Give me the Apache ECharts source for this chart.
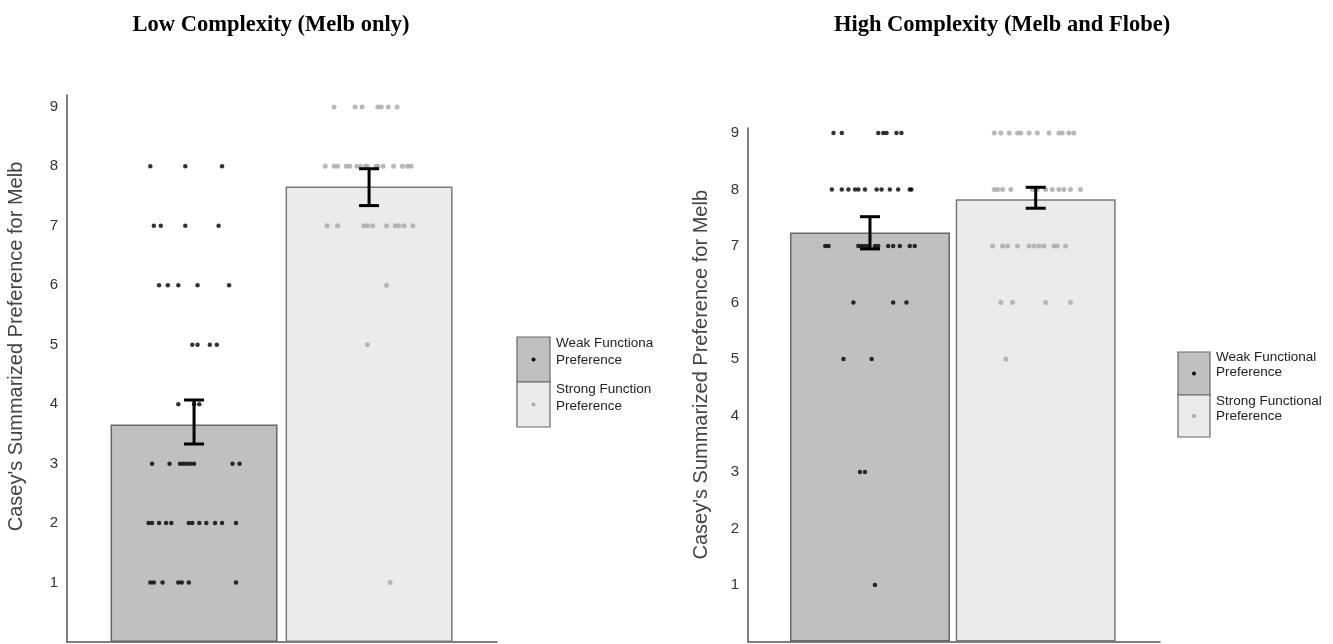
<!DOCTYPE html>
<html>
<head>
<meta charset="utf-8">
<script src="https://cdn.jsdelivr.net/npm/echarts@6/dist/echarts.min.js"></script>
<style>
  html, body { margin: 0; padding: 0; background: #fff; }
  #chart { width: 1333px; height: 644px; }
</style>
</head>
<body>
<div id="chart"></div>
<script>
// groups and summary values
var groups = ['Weak Functional Preference', 'Strong Functional Preference'];
var groupX = [1, 2];

var lowMeans = [3.66, 7.66];
var lowErrLow = [3.33, 7.34];
var lowErrHigh = [4.07, 7.96];

var highMeans = [7.24, 7.83];
var highErrLow = [6.95, 7.67];
var highErrHigh = [7.52, 8.04];

var scoreTicks = [1, 2, 3, 4, 5, 6, 7, 8, 9];

// individual scores: [jitter offset from group centre, score]
var lowWeakDots = [
  [-0.25, 8], [-0.05, 8], [0.16, 8],
  [-0.23, 7], [-0.19, 7], [-0.05, 7], [0.14, 7],
  [-0.20, 6], [-0.15, 6], [-0.09, 6], [0.02, 6], [0.20, 6],
  [-0.01, 5], [0.02, 5], [0.09, 5], [0.13, 5],
  [-0.09, 4], [0.00, 4], [0.03, 4],
  [-0.24, 3], [-0.14, 3], [-0.08, 3], [-0.06, 3], [-0.04, 3], [-0.02, 3], [0.00, 3], [0.22, 3], [0.26, 3],
  [-0.26, 2], [-0.24, 2], [-0.20, 2], [-0.16, 2], [-0.13, 2], [-0.03, 2], [-0.01, 2], [0.03, 2], [0.07, 2], [0.12, 2], [0.16, 2], [0.24, 2],
  [-0.25, 1], [-0.23, 1], [-0.18, 1], [-0.09, 1], [-0.07, 1], [-0.03, 1], [0.24, 1]
];
var lowStrongDots = [
  [-0.20, 9], [-0.08, 9], [-0.04, 9], [0.05, 9], [0.07, 9], [0.11, 9], [0.16, 9],
  [-0.25, 8], [-0.20, 8], [-0.18, 8], [-0.13, 8], [-0.11, 8], [-0.07, 8], [-0.05, 8], [-0.02, 8], [-0.01, 8], [0.04, 8], [0.05, 8], [0.08, 8], [0.14, 8], [0.19, 8], [0.22, 8], [0.24, 8],
  [-0.24, 7], [-0.18, 7], [-0.03, 7], [-0.01, 7], [0.02, 7], [0.10, 7], [0.15, 7], [0.17, 7], [0.20, 7], [0.25, 7],
  [0.10, 6],
  [-0.01, 5],
  [0.12, 1]
];
var highWeakDots = [
  [-0.22, 9], [-0.17, 9], [0.05, 9], [0.08, 9], [0.10, 9], [0.16, 9], [0.19, 9],
  [-0.23, 8], [-0.17, 8], [-0.13, 8], [-0.09, 8], [-0.07, 8], [-0.03, 8], [0.04, 8], [0.07, 8], [0.12, 8], [0.17, 8], [0.24, 8], [0.25, 8],
  [-0.27, 7], [-0.25, 7], [-0.07, 7], [-0.05, 7], [-0.03, 7], [-0.01, 7], [0.03, 7], [0.05, 7], [0.11, 7], [0.14, 7], [0.18, 7], [0.24, 7], [0.27, 7],
  [-0.10, 6], [0.14, 6], [0.22, 6],
  [-0.16, 5], [0.01, 5],
  [-0.06, 3], [-0.03, 3],
  [0.03, 1]
];
var highStrongDots = [
  [-0.25, 9], [-0.21, 9], [-0.16, 9], [-0.11, 9], [-0.09, 9], [-0.04, 9], [0.01, 9], [0.08, 9], [0.14, 9], [0.16, 9], [0.20, 9], [0.23, 9],
  [-0.25, 8], [-0.23, 8], [-0.20, 8], [-0.15, 8], [-0.02, 8], [0.01, 8], [0.06, 8], [0.10, 8], [0.14, 8], [0.17, 8], [0.21, 8], [0.27, 8],
  [-0.26, 7], [-0.20, 7], [-0.17, 7], [-0.11, 7], [-0.04, 7], [-0.01, 7], [0.02, 7], [0.05, 7], [0.11, 7], [0.13, 7], [0.18, 7],
  [-0.21, 6], [-0.14, 6], [0.06, 6], [0.21, 6],
  [-0.18, 5]
];

var barColors = ['#c0c0c0', '#ebebeb'];
var dotColors = ['#000000', '#a8a8a8'];

var chart = echarts.init(document.getElementById('chart'));

function place(dots, gx) {
  return dots.map(function (d) { return [gx + d[0], d[1]]; });
}

function barData(means) {
  return means.map(function (m, i) {
    return {
      value: [groupX[i], m],
      itemStyle: { color: barColors[i], borderColor: i === 0 ? '#666' : '#7a7a7a', borderWidth: 1.5 }
    };
  });
}

function errData(lo, hi) {
  return lo.map(function (l, i) { return [groupX[i], l, hi[i]]; });
}

function renderErr(params, api) {
  var x = api.value(0);
  var top = api.coord([x, api.value(2)]);
  var bot = api.coord([x, api.value(1)]);
  var w = 10;
  var st = { stroke: '#000', lineWidth: 3 };
  return {
    type: 'group',
    children: [
      { type: 'line', shape: { x1: top[0], y1: top[1], x2: bot[0], y2: bot[1] }, style: st },
      { type: 'line', shape: { x1: top[0] - w, y1: top[1], x2: top[0] + w, y2: top[1] }, style: st },
      { type: 'line', shape: { x1: bot[0] - w, y1: bot[1], x2: bot[0] + w, y2: bot[1] }, style: st }
    ]
  };
}

function yAxisFor(idx, max, gap, pad) {
  return {
    type: 'value',
    gridIndex: idx,
    min: 0,
    max: max,
    interval: 1,
    name: "Casey's Summarized Preference for Melb",
    nameLocation: 'middle',
    nameGap: gap,
    nameTextStyle: { fontFamily: 'Liberation Sans', fontSize: 20, color: '#444', padding: [0, 0, 0, pad] },
    axisLine: { show: true, lineStyle: { color: '#555', width: 1.5 } },
    axisTick: { show: false },
    splitLine: { show: false },
    axisLabel: {
      margin: 9,
      fontFamily: 'Liberation Sans',
      fontSize: 15,
      color: '#333',
      formatter: function (v) { return scoreTicks.indexOf(v) >= 0 ? String(v) : ''; }
    }
  };
}

function xAxisFor(idx, min, max) {
  return {
    type: 'value',
    gridIndex: idx,
    min: min,
    max: max,
    axisLine: { show: true, onZero: false, lineStyle: { color: '#555', width: 1.5 } },
    axisTick: { show: false },
    axisLabel: { show: false },
    splitLine: { show: false }
  };
}

function legendBlock(x, y, w, h1, h2, lineH, textW) {
  var names = groups.map(function (g) { return g.replace(' Preference', '\nPreference'); });
  return [
    { type: 'rect', shape: { x: x, y: y, width: w, height: h1 }, style: { fill: barColors[0], stroke: '#666', lineWidth: 1.2 } },
    { type: 'rect', shape: { x: x, y: y + h1, width: w, height: h2 }, style: { fill: barColors[1], stroke: '#666', lineWidth: 1.2 } },
    { type: 'circle', shape: { cx: x + w / 2, cy: y + h1 / 2, r: 2 }, style: { fill: dotColors[0] } },
    { type: 'circle', shape: { cx: x + w / 2, cy: y + h1 + h2 / 2, r: 2 }, style: { fill: dotColors[1] } },
    { type: 'text', x: x + w + 6, y: y - 2, style: { text: names[0], fontFamily: 'Liberation Sans', fontSize: 13.5, lineHeight: lineH, fill: '#222', width: textW, overflow: 'truncate', ellipsis: '' } },
    { type: 'text', x: x + w + 6, y: y + h1 - 1, style: { text: names[1], fontFamily: 'Liberation Sans', fontSize: 13.5, lineHeight: lineH, fill: '#222', width: textW, overflow: 'truncate', ellipsis: '' } }
  ];
}

chart.setOption({
  animation: false,
  title: [
    { text: 'Low Complexity (Melb only)', left: 266, top: 9, textAlign: 'center',
      textStyle: { fontFamily: 'Liberation Serif', fontWeight: 'bold', fontSize: 22.5, color: '#000' } },
    { text: 'High Complexity (Melb and Flobe)', left: 997, top: 9, textAlign: 'center',
      textStyle: { fontFamily: 'Liberation Serif', fontWeight: 'bold', fontSize: 22.5, color: '#000' } }
  ],
  grid: [
    { left: 67, top: 95, width: 430, bottom: 2 },
    { left: 748, top: 128, width: 412, bottom: 2.5 }
  ],
  xAxis: [xAxisFor(0, 0.274, 2.731), xAxisFor(1, 0.264, 2.75)],
  yAxis: [yAxisFor(0, 9.2, 41, 44), yAxisFor(1, 9.09, 37, 20)],
  series: [
    { type: 'bar', xAxisIndex: 0, yAxisIndex: 0, barWidth: 167, data: barData(lowMeans), z: 1 },
    { type: 'bar', xAxisIndex: 1, yAxisIndex: 1, barWidth: 160, data: barData(highMeans), z: 1 },
    { type: 'scatter', name: groups[0], xAxisIndex: 0, yAxisIndex: 0, symbolSize: 4.5, itemStyle: { color: dotColors[0] }, data: place(lowWeakDots, groupX[0]), z: 2 },
    { type: 'scatter', name: groups[1], xAxisIndex: 0, yAxisIndex: 0, symbolSize: 5, itemStyle: { color: dotColors[1] }, data: place(lowStrongDots, groupX[1]), z: 2 },
    { type: 'scatter', name: groups[0], xAxisIndex: 1, yAxisIndex: 1, symbolSize: 4.5, itemStyle: { color: dotColors[0] }, data: place(highWeakDots, groupX[0]), z: 2 },
    { type: 'scatter', name: groups[1], xAxisIndex: 1, yAxisIndex: 1, symbolSize: 5, itemStyle: { color: dotColors[1] }, data: place(highStrongDots, groupX[1]), z: 2 },
    { type: 'custom', xAxisIndex: 0, yAxisIndex: 0, renderItem: renderErr, encode: { x: 0, y: [1, 2] }, data: errData(lowErrLow, lowErrHigh), z: 3 },
    { type: 'custom', xAxisIndex: 1, yAxisIndex: 1, renderItem: renderErr, encode: { x: 0, y: [1, 2] }, data: errData(highErrLow, highErrHigh), z: 3 }
  ],
  graphic: legendBlock(517, 337, 33, 45, 45, 17, 99).concat(legendBlock(1178, 352, 32, 43, 42, 15, 130))
});
</script>
</body>
</html>
